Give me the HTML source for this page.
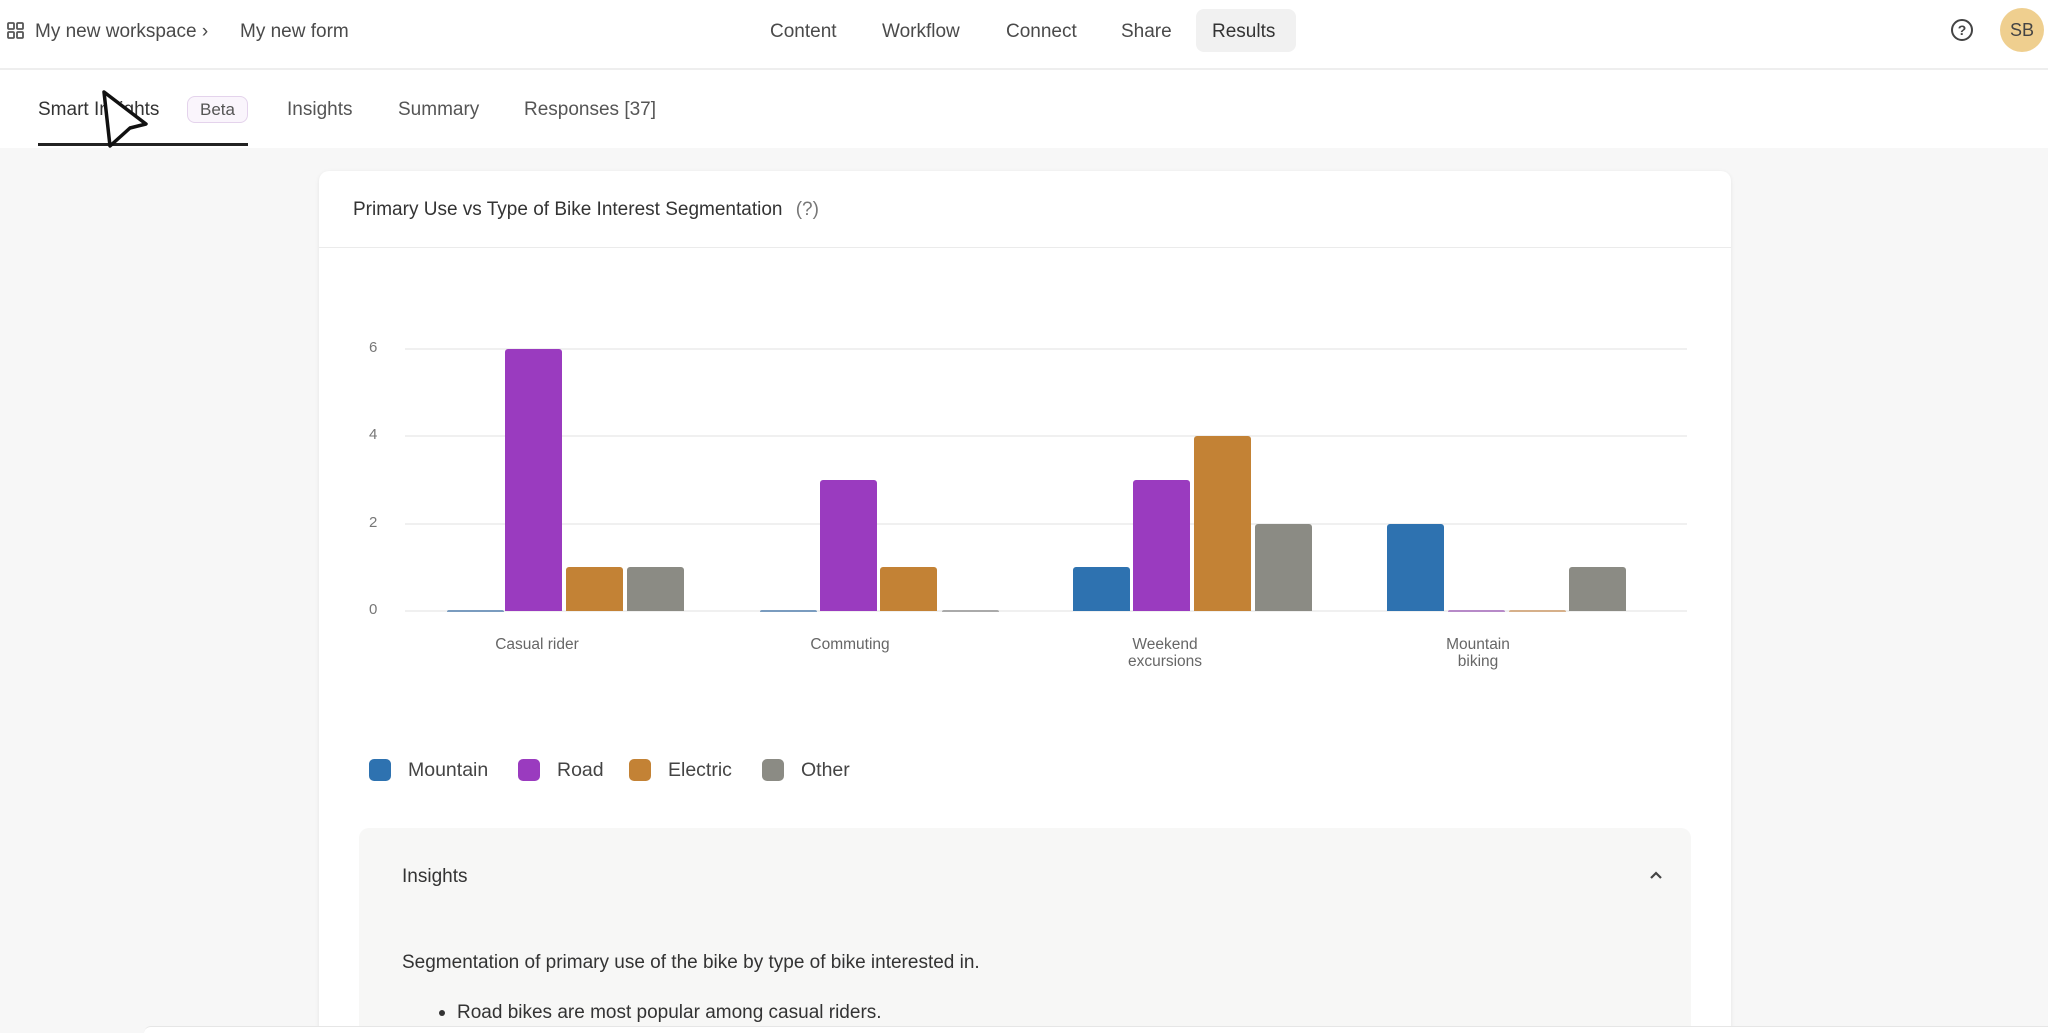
<!DOCTYPE html>
<html style="width:2048px;height:1033px;overflow:hidden"><head><meta charset="utf-8"><style>
*{margin:0;padding:0;box-sizing:border-box}
body{width:2048px;height:1033px;overflow:hidden;background:#f7f7f7;font-family:"Liberation Sans",sans-serif;color:#333;position:relative}
.a{position:absolute;white-space:nowrap}
#top{position:absolute;left:0;top:0;width:2048px;height:148px;background:#fff}
#topline{position:absolute;left:0;top:68px;width:2048px;height:2px;background:#eee}
.nav{font-size:19px;color:#4a4a4a;top:21px}
.tab{font-size:19px;color:#555;top:99px}
#card{position:absolute;left:319px;top:171px;width:1412px;height:862px;background:#fff;border-radius:10px 10px 0 0;box-shadow:0 1px 4px rgba(0,0,0,0.08)}
.grid{position:absolute;left:405px;width:1282px;height:2px;background:#f0f0f0}
.yl{font-size:15px;color:#777;left:369px}
.bar{position:absolute;width:57px;border-radius:3px 3px 0 0}
.xl{font-size:15.5px;color:#666;text-align:center;width:160px;line-height:17px}
.sq{position:absolute;width:22px;height:22px;border-radius:5px;top:759px}
.lg{font-size:19.5px;color:#444;top:759px}
</style></head><body>
<div id="top"></div><div id="topline"></div>
<svg class="a" style="left:6px;top:21px" width="20" height="20" viewBox="0 0 20 20"><g fill="none" stroke="#555" stroke-width="1.8"><rect x="2" y="2" width="6" height="6" rx="1"/><rect x="11" y="2" width="6" height="6" rx="1"/><rect x="2" y="11" width="6" height="6" rx="1"/><rect x="11" y="11" width="6" height="6" rx="1"/></g></svg>
<div class="a nav" style="left:35px">My new workspace ›</div>
<div class="a nav" style="left:240px">My new form</div>
<div class="a nav" style="left:770px">Content</div>
<div class="a nav" style="left:882px">Workflow</div>
<div class="a nav" style="left:1006px">Connect</div>
<div class="a nav" style="left:1121px">Share</div>
<div class="a" style="left:1196px;top:9px;width:100px;height:43px;background:#f1f1f1;border-radius:8px"></div>
<div class="a nav" style="left:1212px;color:#333">Results</div>
<div class="a" style="left:1951px;top:19px;width:22px;height:22px;border:2px solid #444;border-radius:50%;font-size:14px;font-weight:bold;text-align:center;line-height:18px;color:#444">?</div>
<div class="a" style="left:2000px;top:8px;width:44px;height:44px;background:#efcf8f;border-radius:50%;font-size:18px;text-align:center;line-height:44px;color:#444">SB</div>
<div class="a tab" style="left:38px;color:#333">Smart Insights</div>
<div class="a" style="left:187px;top:96px;width:61px;height:27px;border:1px solid #e4d3ec;background:#faf5fc;border-radius:8px;font-size:17px;color:#555;text-align:center;line-height:25px">Beta</div>
<div class="a tab" style="left:287px">Insights</div>
<div class="a tab" style="left:398px">Summary</div>
<div class="a tab" style="left:524px">Responses [37]</div>
<div class="a" style="left:38px;top:143px;width:210px;height:3px;background:#222"></div>
<svg class="a" style="left:96px;top:88px" width="60" height="62" viewBox="0 0 60 62"><path d="M8 4 L50 36 L34 40 L14 58 Z" fill="#fff" stroke="#111" stroke-width="3.5" stroke-linejoin="round"/></svg>
<div id="card">
<div class="a" style="left:0;top:76px;width:1412px;height:1px;background:#ebebeb"></div>
</div>
<div class="a" style="left:353px;top:199px;font-size:19px;color:#333">Primary Use vs Type of Bike Interest Segmentation <span style="color:#777;margin-left:8px">(?)</span></div>
<div class="grid" style="top:348px"></div>
<div class="grid" style="top:435px"></div>
<div class="grid" style="top:523px"></div>
<div class="grid" style="top:610px"></div>
<div class="a yl" style="top:339px">6</div>
<div class="a yl" style="top:426px">4</div>
<div class="a yl" style="top:514px">2</div>
<div class="a yl" style="top:601px">0</div>
<div class="bar" style="left:447px;top:610px;height:2px;background:#7a9cbf"></div>
<div class="bar" style="left:505px;top:349px;height:262px;background:#9a3bbf"></div>
<div class="bar" style="left:566px;top:567px;height:44px;background:#c38235"></div>
<div class="bar" style="left:627px;top:567px;height:44px;background:#8b8b84"></div>

<div class="bar" style="left:760px;top:610px;height:2px;background:#7a9cbf"></div>
<div class="bar" style="left:820px;top:480px;height:131px;background:#9a3bbf"></div>
<div class="bar" style="left:880px;top:567px;height:44px;background:#c38235"></div>
<div class="bar" style="left:942px;top:610px;height:2px;background:#aaa"></div>

<div class="bar" style="left:1073px;top:567px;height:44px;background:#2e72b0"></div>
<div class="bar" style="left:1133px;top:480px;height:131px;background:#9a3bbf"></div>
<div class="bar" style="left:1194px;top:436px;height:175px;background:#c38235"></div>
<div class="bar" style="left:1255px;top:524px;height:87px;background:#8b8b84"></div>

<div class="bar" style="left:1387px;top:524px;height:87px;background:#2e72b0"></div>
<div class="bar" style="left:1448px;top:610px;height:2px;background:#b78ac8"></div>
<div class="bar" style="left:1509px;top:610px;height:2px;background:#d6b08a"></div>
<div class="bar" style="left:1569px;top:567px;height:44px;background:#8b8b84"></div>

<div class="a xl" style="left:457px;top:636px">Casual rider</div>
<div class="a xl" style="left:770px;top:636px">Commuting</div>
<div class="a xl" style="left:1085px;top:636px">Weekend<br>excursions</div>
<div class="a xl" style="left:1398px;top:636px">Mountain<br>biking</div>

<div class="sq" style="left:369px;background:#2e72b0"></div>
<div class="a lg" style="left:408px">Mountain</div>
<div class="sq" style="left:518px;background:#9a3bbf"></div>
<div class="a lg" style="left:557px">Road</div>
<div class="sq" style="left:629px;background:#c38235"></div>
<div class="a lg" style="left:668px">Electric</div>
<div class="sq" style="left:762px;background:#8b8b84"></div>
<div class="a lg" style="left:801px">Other</div>

<div class="a" style="left:359px;top:828px;width:1332px;height:205px;background:#f7f7f6;border-radius:10px 10px 0 0"></div>
<div class="a" style="left:402px;top:866px;font-size:19px;color:#333">Insights</div>
<svg class="a" style="left:1648px;top:869px" width="16" height="12" viewBox="0 0 16 12"><path d="M3 9 L8 4 L13 9" fill="none" stroke="#444" stroke-width="2.2"/></svg>
<div class="a" style="left:402px;top:952px;font-size:19px;color:#333">Segmentation of primary use of the bike by type of bike interested in.</div>
<div class="a" style="left:439px;top:1010px;width:6px;height:6px;border-radius:50%;background:#333"></div>
<div class="a" style="left:457px;top:1002px;font-size:19px;color:#333">Road bikes are most popular among casual riders.</div>
<div class="a" style="left:144px;top:1026px;width:1904px;height:7px;background:#fff;border-top:1px solid #e6e6e6;border-radius:8px 0 0 0"></div>
</body></html>
